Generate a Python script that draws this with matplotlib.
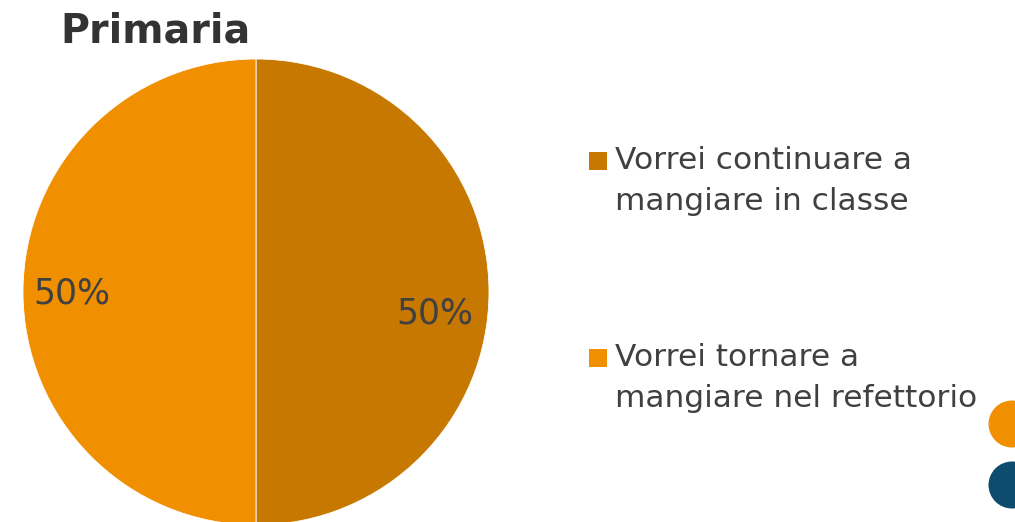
import matplotlib
matplotlib.use("Agg")
import matplotlib.pyplot as plt
from matplotlib.patches import Rectangle, Circle

title = "Primaria"
labels = ["Vorrei continuare a\nmangiare in classe", "Vorrei tornare a\nmangiare nel refettorio"]
values = [50, 50]
colors = ["#C77800", "#F09000"]
deco_colors = ["#F09000", "#0E4C6E"]

text_color = "#404040"
plt.rcParams['font.family'] = ['DejaVu Sans']

W, H = 1015, 522
fig = plt.figure(figsize=(W / 100, H / 100), dpi=100)

# pie axes: center (256,292) px, radius 233 px
cx, cy, r = 256, 292, 233
ax = fig.add_axes([(cx - r) / W, (H - cy - r) / H, 2 * r / W, 2 * r / H])
wedges, texts, autotexts = ax.pie(values, colors=colors, startangle=90, counterclock=False,
                                  autopct='%1.0f%%', pctdistance=0.78,
                                  wedgeprops=dict(edgecolor='white', linewidth=0.6),
                                  textprops=dict(color=text_color, fontsize=25))
ax.set_xlim(-1, 1)
ax.set_ylim(-1, 1)
ax.set_aspect('equal')
ax.axis('off')
# fine-tune label placement (data coords, radius units)
autotexts[0].set_position(((435 - cx) / r, (cy - 313) / r))
autotexts[1].set_position(((72 - cx) / r, (cy - 294) / r))

fig.text(155 / W, 1 - 31 / H, title, fontsize=28.5, fontweight='bold', color='#333333',
         ha='center', va='center')

# legend
sq = 18
entries_top = [152, 349]
line_gap = 41
for lab, col, top in zip(labels, colors, entries_top):
    fig.add_artist(Rectangle((589 / W, 1 - (top + sq) / H), sq / W, sq / H,
                             transform=fig.transFigure, facecolor=col, edgecolor='none'))
    for i, line in enumerate(lab.split("\n")):
        fig.text(615 / W, 1 - (top + 17 + i * line_gap) / H, line, fontsize=22.5,
                 color=text_color, ha='left', va='baseline')

# decorative circles at right edge
for col, yc in zip(deco_colors, [424, 485]):
    fig.add_artist(Circle((1012 / 100, (H - yc) / 100), 0.235,
                          transform=fig.dpi_scale_trans, facecolor=col, edgecolor='none'))

fig.savefig("out.png", dpi=100)
